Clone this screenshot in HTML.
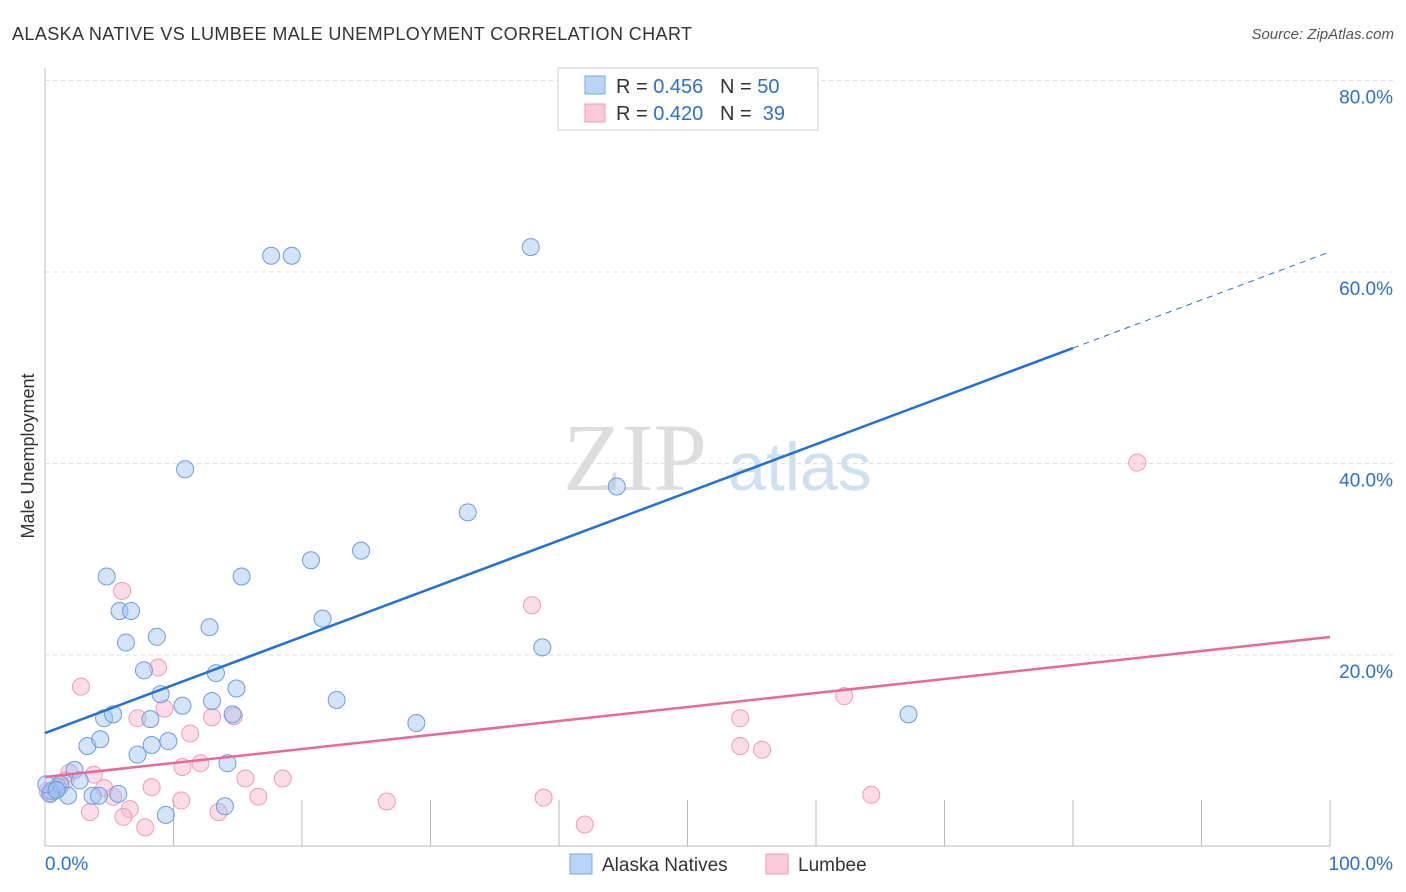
<!DOCTYPE html>
<html><head><meta charset="utf-8"><style>
body{margin:0;background:#fff;font-family:"Liberation Sans",sans-serif}
svg{display:block}
</style></head><body>
<svg id="chart" width="1406" height="892">
<text x="12" y="40" font-size="18" fill="#333" letter-spacing="0.4">ALASKA NATIVE VS LUMBEE MALE UNEMPLOYMENT CORRELATION CHART</text>
<text x="1394" y="39" font-size="15" fill="#555" font-style="italic" text-anchor="end">Source: ZipAtlas.com</text>
<g>
<text x="635" y="490" font-size="96" font-family="Liberation Serif,serif" fill="#ddd" text-anchor="middle">ZIP</text>
<text x="800" y="490" font-size="68" fill="#cfe0f3" text-anchor="middle">atlas</text>
</g>
<g id="grid"></g>
<g id="axes"></g>
<g id="marks"></g>
<text transform="translate(34,456) rotate(-90)" font-size="18" fill="#333" text-anchor="middle">Male Unemployment</text>
<g>
<rect x="558" y="68" width="260" height="62" fill="#fff" stroke="#ccc"/>
<rect x="585" y="76" width="20" height="18" fill="#b9d4f5" stroke="#7aa6e6"/>
<rect x="585" y="104" width="20" height="18" fill="#fbcada" stroke="#ef9ab6"/>
<text x="616" y="93" font-size="20" fill="#333">R = <tspan fill="#2b6fd0">0.456</tspan>&#160;&#160;&#160;N = <tspan fill="#2b6fd0">50</tspan></text>
<text x="616" y="120" font-size="20" fill="#333">R = <tspan fill="#2b6fd0">0.420</tspan>&#160;&#160;&#160;N = <tspan fill="#2b6fd0">&#160;39</tspan></text>
</g>
<g>
<rect x="570" y="854" width="22" height="20" fill="#b9d4f5" stroke="#7aa6e6"/>
<text x="602" y="871" font-size="19" fill="#333">Alaska Natives</text>
<rect x="766" y="854" width="22" height="20" fill="#fbcada" stroke="#ef9ab6"/>
<text x="798" y="871" font-size="19" fill="#333">Lumbee</text>
</g>
</svg>
<script>
const yTicks=[20,40,60,80];
const yTickLabels=["20.0%","40.0%","60.0%","80.0%"];
const xTicks=[0,10,20,30,40,50,60,70,80,90,100];
const blueX=[17.6,19.2,37.8,10.9,44.5,32.9,24.6,20.7,4.8,15.3,5.8,6.7,21.6,8.7,6.3,12.8,38.7,7.7,13.3,9.0,14.9,13.0,10.7,22.7,4.6,5.3,8.2,14.6,28.9,67.2,3.3,4.3,8.3,9.6,7.2,14.2,2.3,2.7,14.0,1.0,0.5,1.2,3.7,1.8,5.7,9.4,0.4,4.2,0.1,0.9];
const blueY=[61.7,61.7,62.6,39.4,37.6,34.9,30.9,29.9,28.2,28.2,24.6,24.6,23.8,21.9,21.3,22.9,20.8,18.4,18.1,15.9,16.5,15.2,14.7,15.3,13.4,13.8,13.3,13.8,12.9,13.8,10.5,11.2,10.6,11.0,9.6,8.7,8.0,6.9,4.2,6.2,5.8,6.5,5.3,5.3,5.5,3.3,5.5,5.3,6.5,5.9];
const pinkX=[85.0,37.9,6.0,2.8,8.8,62.2,9.3,11.3,7.2,13.0,14.7,54.1,54.1,55.8,10.7,12.1,3.8,1.9,18.5,15.6,8.3,4.6,6.6,5.3,16.6,10.6,26.6,38.8,64.3,3.5,6.1,7.8,13.5,42.0,0.4,0.8,0.2,1.6,1.2];
const pinkY=[40.1,25.2,26.7,16.7,18.7,15.7,14.4,11.8,13.4,13.5,13.6,13.4,10.5,10.1,8.3,8.7,7.5,7.7,7.1,7.1,6.2,6.1,3.9,5.2,5.2,4.8,4.7,5.1,5.4,3.6,3.1,2.0,3.6,2.3,5.6,6.0,5.8,6.9,6.3];
const blueFit=[11.85,0.5026];
const pinkFit=[7.26,0.1462];
const NS="http://www.w3.org/2000/svg";
const X=v=>45+v*12.85, Y=v=>846.5-v*9.575;
function mk(t,a,p){const e=document.createElementNS(NS,t);for(const k in a)e.setAttribute(k,a[k]);p.appendChild(e);return e;}
const grid=document.getElementById('grid'),axes=document.getElementById('axes'),marks=document.getElementById('marks');
yTicks.forEach((v,i)=>{
 const l=mk('line',{x1:45,x2:1395,y1:Y(v),y2:Y(v),stroke:'#ddd','stroke-dasharray':'4,4'},grid);
 
 
 const t=mk('text',{x:1393,y:Y(v)+23,'font-size':19,fill:'#2b6fd0','text-anchor':'end'},axes);t.textContent=yTickLabels[i];
 
 
});
const ax=mk('line',{x1:45,x2:45,y1:68,y2:846,stroke:'#bbb'},axes);


const bx=mk('line',{x1:45,x2:1330,y1:846,y2:846,stroke:'#bbb'},axes);


xTicks.forEach(v=>{if(v===0)return;const t=mk('line',{x1:X(v),x2:X(v),y1:800,y2:846,stroke:'#bbb'},axes);
 
 });
const x0=mk('text',{x:45,y:870,'font-size':19,fill:'#2b6fd0'},axes);x0.textContent='0.0%';


const x1=mk('text',{x:1393,y:870,'font-size':19,fill:'#2b6fd0','text-anchor':'end'},axes);x1.textContent='100.0%';


pinkX.forEach((x,i)=>{const c=mk('circle',{cx:X(x),cy:Y(pinkY[i]),r:8.5,fill:'rgba(248,180,202,0.45)',stroke:'#ef9ab6','stroke-width':1},marks);
 
 });
blueX.forEach((x,i)=>{const c=mk('circle',{cx:X(x),cy:Y(blueY[i]),r:8.5,fill:'rgba(160,196,240,0.45)',stroke:'#6b9be0','stroke-width':1},marks);
 
 });
const bl=mk('line',{x1:X(0),y1:Y(blueFit[0]),x2:X(80),y2:Y(blueFit[0]+80*blueFit[1]),stroke:'#2270d8','stroke-width':2.5},marks);


const bd=mk('line',{x1:X(80),y1:Y(blueFit[0]+80*blueFit[1]),x2:X(100),y2:Y(blueFit[0]+100*blueFit[1]),stroke:'#2270d8','stroke-width':1,'stroke-dasharray':'6,5'},marks);


const pl=mk('line',{x1:X(0),y1:Y(pinkFit[0]),x2:X(100),y2:Y(pinkFit[0]+100*pinkFit[1]),stroke:'#e8689a','stroke-width':2.5},marks);


</script>
</body></html>
